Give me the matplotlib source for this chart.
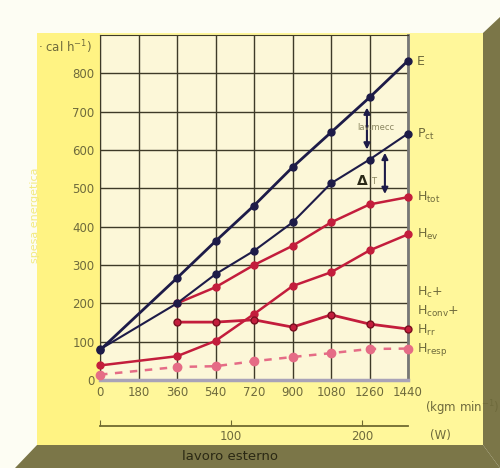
import numpy as np
import matplotlib.pyplot as plt
from matplotlib.patches import Polygon

# data (kcal/h vs kgm/min)
lavoro = [0, 180, 360, 540, 720, 900, 1080, 1260, 1440]
x_E = [0, 360, 540, 720, 900, 1080, 1260, 1440]
E = [78, 266, 362, 455, 555, 646, 737, 833]
Pct = [80, 200, 276, 337, 411, 513, 575, 643]
x_tot = [360, 540, 720, 900, 1080, 1260, 1440]
Htot = [200, 242, 300, 350, 411, 458, 477]
Hev = [38, 62, 102, 172, 245, 281, 338, 380]
x_cr = [360, 540, 720, 900, 1080, 1260, 1440]
Hcr = [151, 151, 157, 138, 170, 146, 133]
Hresp = [14, 34, 36, 49, 60, 70, 81, 82]

labels = ['E', 'P$_{\\mathrm{ct}}$', 'H$_{\\mathrm{tot}}$', 'H$_{\\mathrm{ev}}$',
          'H$_{\\mathrm{c}}$+', 'H$_{\\mathrm{conv}}$+', 'H$_{\\mathrm{rr}}$', 'H$_{\\mathrm{resp}}$']
label_y = [830, 640, 475, 380, 228, 178, 130, 80]

yellow = '#fff79a'
olive = '#7b7648'
txt = '#6e6a3c'
navy = '#1d1b48'
red = '#c31d3c'
pink = '#e56c86'

fig = plt.figure(figsize=(5, 4.68), dpi=100)
fig.patch.set_facecolor('#fdfdf3')

# 3D box frame
W, H = 500, 468
def fpoly(pts, color):
    fig.patches.append(Polygon([(x / W, 1 - y / H) for x, y in pts], closed=True,
                               transform=fig.transFigure, facecolor=color,
                               edgecolor='none', zorder=-5))
fpoly([(37, 33), (483, 33), (483, 445), (37, 445)], yellow)
fpoly([(37, 33), (100, 33), (100, 445), (37, 445)], '#fff383')
fpoly([(483, 33), (500, 17), (500, 468), (483, 445)], olive)
fpoly([(37, 445), (483, 445), (500, 468), (15, 468)], olive)

ax = fig.add_axes([100 / W, 1 - 380 / H, 308 / W, 345 / H])
ax.set_zorder(2)
ax.set_facecolor('#fcf7d8')
ax.set_xlim(0, 1440)
ax.set_ylim(0, 900)
ax.set_xticks(lavoro)
ax.set_yticks(np.arange(0, 900, 100))
ax.grid(True, color='#3e3a28', lw=1.0)
ax.tick_params(length=0, colors=txt, labelsize=8.5, pad=4)
for s in ['top', 'left']:
    ax.spines[s].set_color('#3e3a28')
ax.spines['right'].set_color('#777777')
ax.spines['right'].set_linewidth(2)
ax.spines['bottom'].set_color('#a9a3b8')
ax.spines['bottom'].set_linewidth(2.5)

ax.plot(x_E, E, '-o', color=navy, lw=2, ms=5, clip_on=False, zorder=5)
ax.plot(x_E, Pct, '-o', color=navy, lw=1.5, ms=5, clip_on=False, zorder=5)
ax.plot(x_tot, Htot, '-o', color=red, lw=1.8, ms=5, clip_on=False, zorder=4)
ax.plot(x_E, Hev, '-o', color=red, lw=1.8, ms=5, clip_on=False, zorder=4)
ax.plot(x_cr, Hcr, '-o', color=red, lw=2, ms=5, mec='#7a1020', clip_on=False, zorder=4)
ax.plot(x_E, Hresp, '--o', color=pink, lw=1.8, ms=6, dashes=(3, 3), clip_on=False, zorder=4)

for lab, yv in zip(labels, label_y):
    ax.text(1480, yv, lab, color=txt, fontsize=9, va='center', ha='left', clip_on=False)

# arrows
ax.annotate('', xy=(1248, 594), xytext=(1248, 718),
            arrowprops=dict(arrowstyle='<|-|>', color=navy, lw=1.5, mutation_scale=9))
ax.text(1290, 660, 'lav.mecc', color='#8a8560', fontsize=6, ha='center', va='center')
ax.annotate('', xy=(1332, 478), xytext=(1332, 600),
            arrowprops=dict(arrowstyle='<|-|>', color=navy, lw=1.5, mutation_scale=9))
ax.text(1225, 518, 'Δ', color='#2a2818', fontsize=10, fontweight='bold', ha='center', va='center')
ax.text(1280, 518, 'T', color='#8a8560', fontsize=6, ha='center', va='center')

# watt axis
sec = ax.secondary_xaxis(-0.133, functions=(lambda x: x / 6.12, lambda w: w * 6.12))
sec.set_xticks([0, 100, 200])
sec.set_xticklabels(['', '100', '200'])
sec.spines['bottom'].set_color('#6f6a30')
sec.spines['bottom'].set_linewidth(1.3)
sec.tick_params(direction='in', length=4, color='#6f6a30', colors=txt, labelsize=8.5, pad=3)

fig.text(425 / W, 1 - 408 / H, '(kgm min$^{-1}$)', color=txt, fontsize=8.5, va='center')
fig.text(430 / W, 1 - 436 / H, '(W)', color=txt, fontsize=8.5, va='center')
fig.text(230 / W, 1 - 457 / H, 'lavoro esterno', color='#2a2814', fontsize=9.5,
         ha='center', va='center')
fig.text(38 / W, 1 - 47 / H, '· cal h$^{-1}$)', color=txt, fontsize=8.5, va='center')
fig.text(35 / W, 1 - 215 / H, 'spesa energetica', color='#f2ea80', fontsize=8,
         rotation=90, ha='center', va='center')

fig.savefig('out.png', dpi=100, facecolor=fig.get_facecolor())
